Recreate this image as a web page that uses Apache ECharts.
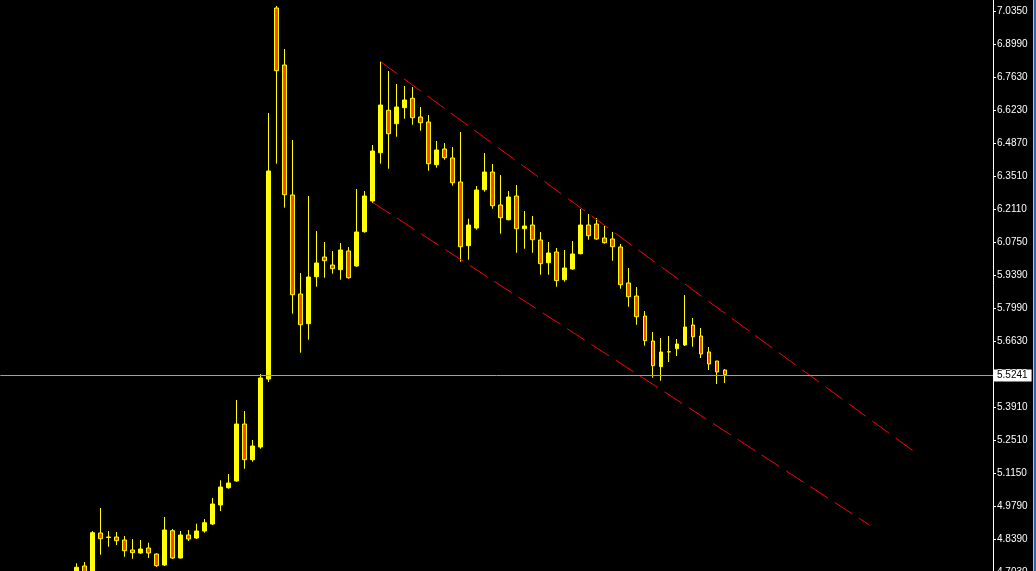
<!DOCTYPE html>
<html>
<head>
<meta charset="utf-8">
<script src="https://cdn.jsdelivr.net/npm/echarts@6/dist/echarts.min.js"></script>
<style>
html,body{margin:0;padding:0;background:#000;}
#chart{width:1036px;height:571px;}
</style>
</head>
<body>
<div id="chart"></div>
<script>
// ---- data ----
const opens = [
4.678, 4.728, 4.6947, 4.8652, 4.8465, 4.8486, 4.8361, 4.7945, 4.782, 4.8028,
4.7779, 4.7321, 4.8748, 4.7612, 4.8569, 4.8444, 4.8735, 4.9026, 4.9817, 5.0536,
5.0815, 5.3185, 5.1701, 5.2229, 5.5057, 7.0487, 6.8117, 6.271, 5.8592, 5.7357,
5.9312, 6.0131, 5.9799, 5.9603, 6.0381, 5.9757, 6.1183, 6.246, 6.4469, 6.6233,
6.5675, 6.6341, 6.6732, 6.5954, 6.5746, 6.397, 6.4623, 6.4249, 6.325, 6.0601,
6.1337, 6.293, 6.3666, 6.2294, 6.1682, 6.2668, 6.1308, 6.1462, 6.0838, 5.9894,
6.0339, 5.9187, 5.9632, 6.0268, 6.1462, 6.1504, 6.0921, 6.088, 6.0547, 5.905,
5.8509, 5.7677, 5.6638, 5.5569, 5.618, 5.6317, 5.6471, 5.7303, 5.6846, 5.618,
5.5806, 5.5431];
const closes = [
4.7225, 4.6905, 4.8665, 4.8415, 4.8486, 4.8332, 4.7916, 4.7833, 4.7987, 4.782,
4.7292, 4.8777, 4.7612, 4.8569, 4.8402, 4.8735, 4.908, 4.9858, 5.0565, 5.0732,
5.3185, 5.1701, 5.227, 5.5099, 6.3708, 6.788, 6.2722, 5.8563, 5.7315, 5.9299,
5.9882, 5.9977, 5.9645, 6.0422, 5.927, 6.1171, 6.2668, 6.454, 6.6453, 6.5259,
6.637, 6.6661, 6.5925, 6.5717, 6.4012, 6.4581, 6.4261, 6.3221, 6.056, 6.1462,
6.2918, 6.3666, 6.2265, 6.1766, 6.2627, 6.1308, 6.1421, 6.0851, 5.9853, 6.0298,
5.9146, 5.9674, 6.0256, 6.1462, 6.1017, 6.088, 6.0726, 6.056, 5.8979, 5.848,
5.7648, 5.665, 5.561, 5.618, 5.6192, 5.6513, 5.722, 5.6816, 5.6097, 5.5681,
5.5348, 5.5241];
const lows = [
4.6614, 4.678, 4.678, 4.775, 4.8082, 4.8153, 4.7666, 4.7583, 4.7791, 4.7612,
4.7238, 4.728, 4.7571, 4.7599, 4.8319, 4.8402, 4.8665, 4.8985, 4.9567, 5.0495,
5.0786, 5.1326, 5.1617, 5.2158, 5.4932, 6.4012, 6.2182, 5.7773, 5.6151, 5.6692,
5.8896, 5.927, 5.9437, 5.9187, 5.9229, 5.9728, 6.1142, 6.2377, 6.4012, 6.3804,
6.5135, 6.5883, 6.5634, 6.5384, 6.3721, 6.3845, 6.4178, 6.3097, 5.9936, 6.0019,
6.1267, 6.2847, 6.214, 6.11, 6.1658, 6.031, 6.0476, 6.031, 5.9395, 5.9395,
5.8896, 5.9104, 5.9603, 6.0243, 6.0851, 6.0851, 6.0684, 5.9977, 5.8813, 5.8064,
5.7315, 5.6442, 5.5111, 5.4986, 5.5764, 5.6014, 5.643, 5.64, 5.593, 5.5431,
5.4849, 5.4891];
const highs = [
4.7392, 4.7446, 4.8735, 4.9692, 4.8735, 4.8694, 4.8527, 4.8402, 4.8361, 4.8249,
4.7808, 4.9317, 4.8818, 4.8735, 4.8777, 4.9039, 4.9234, 5.0108, 5.0844, 5.1106,
5.4184, 5.3726, 5.252, 5.5265, 6.612, 7.057, 6.8782, 6.4997, 5.9466, 6.2668,
6.1213, 6.0755, 6.0381, 6.0714, 6.0547, 6.2959, 6.2876, 6.4789, 6.8254, 6.7867,
6.7327, 6.7243, 6.7202, 6.637, 6.6037, 6.4956, 6.4873, 6.4706, 6.533, 6.1724,
6.3084, 6.4457, 6.3999, 6.3542, 6.2876, 6.3126, 6.2044, 6.1836, 6.1171, 6.0755,
6.0505, 6.0422, 6.0797, 6.2128, 6.192, 6.1753, 6.1421, 6.1171, 6.0672, 5.9674,
5.8883, 5.7885, 5.7012, 5.6762, 5.6846, 5.6721, 5.8551, 5.7594, 5.7178, 5.6388,
5.5806, 5.5473];

// price-axis tick labels, bottom to top (the 5.5270 one sits under the price tag)
const tickLabels = ['4.7030','4.8390','4.9790','5.1150','5.2510','5.3910','5.5270','5.6630',
  '5.7990','5.9390','6.0750','6.2110','6.3510','6.4870','6.6230','6.7630','6.8990','7.0350'];
const tickBase = 4.8390;
const tickStep = 0.13725;
const currentPrice = 5.5241;

// trend (channel) lines: bar index and price at both ends
const upperLineIdx = [38, 105];
const upperLinePrice = [6.8254, 5.1954];
const lowerLineIdx = [37, 99];
const lowerLinePrice = [6.2406, 4.8999];

// ---- layout helpers ----
const SLOTS = 124;
const FIRST = 9;
const cats = Array.from({length: SLOTS}, (_, i) => String(i));
const candleData = cats.map((_, i) => {
  const k = i - FIRST;
  if (k < 0 || k >= opens.length) return '-';
  return [opens[k], closes[k], lows[k], highs[k]];
});
const tMin = -2, tMax = 17;

const chart = echarts.init(document.getElementById('chart'));
chart.setOption({
  backgroundColor: '#000000',
  animation: false,
  grid: { left: 0.3, right: 43, top: -21.7, bottom: -34.3, outerBoundsMode: 'none', containLabel: false },
  xAxis: {
    type: 'category', data: cats, boundaryGap: true, show: false
  },
  yAxis: [
    { type: 'value', show: false, position: 'right',
      min: tickBase + tMin * tickStep, max: tickBase + tMax * tickStep, splitLine: { show: false } },
    { type: 'value', position: 'right', min: tMin, max: tMax, interval: 1,
      splitLine: { show: false },
      axisLine: { show: true, lineStyle: { color: '#ffffff', width: 1 } },
      axisTick: { show: true, length: 3, lineStyle: { color: '#ffffff' } },
      axisLabel: { color: '#ffffff', fontSize: 10, fontFamily: 'Liberation Sans', margin: 4,
        formatter: v => tickLabels[v + 1] || '' } }
  ],
  series: [
    {
      type: 'candlestick', yAxisIndex: 0, data: candleData, barWidth: 4, silent: true,
      itemStyle: { color: '#FFFF00', color0: '#FF4500', borderColor: '#FFFF00', borderColor0: '#FFFF00', borderWidth: 1 },
      markLine: {
        silent: true, symbol: 'none', z: 10,
        lineStyle: { color: '#a0a0a4', width: 1, type: 'solid' },
        label: { show: true, position: 'end', distance: 1, formatter: currentPrice.toFixed(4),
          backgroundColor: '#ffffff', color: '#000000', fontSize: 10, fontFamily: 'Liberation Sans',
          padding: [1, 4, 1, 3] },
        data: [{ yAxis: currentPrice }]
      }
    },
    {
      type: 'line', yAxisIndex: 0, symbol: 'none', silent: true,
      lineStyle: { color: '#ff0000', width: 1, type: [21, 8] },
      data: upperLineIdx.map((k, i) => [k + FIRST, upperLinePrice[i]])
    },
    {
      type: 'line', yAxisIndex: 0, symbol: 'none', silent: true,
      lineStyle: { color: '#ff0000', width: 1, type: [21, 8] },
      data: lowerLineIdx.map((k, i) => [k + FIRST, lowerLinePrice[i]])
    }
  ],
  graphic: [
    { type: 'rect', shape: { x: 1033, y: 0, width: 1, height: 571 }, style: { fill: '#b8c4d4' }, silent: true },
    { type: 'rect', shape: { x: 1034, y: 0, width: 2, height: 571 }, style: { fill: '#2f64a8' }, silent: true }
  ]
});
</script>
</body>
</html>
